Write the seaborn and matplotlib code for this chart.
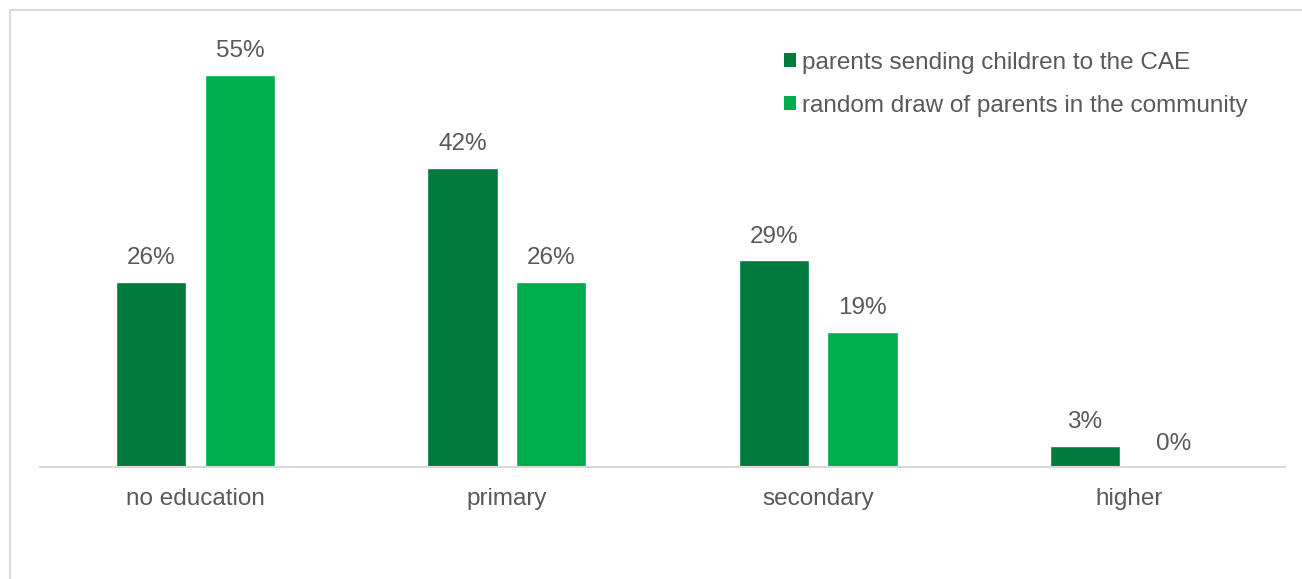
import matplotlib
matplotlib.use("Agg")
import matplotlib.pyplot as plt
from matplotlib.lines import Line2D
from matplotlib.patches import Patch
import pandas as pd
import seaborn as sns

categories = ["no education", "primary", "secondary", "higher"]
cae_parents = [26, 42, 29, 3]
community_parents = [55, 26, 19, 0]
series_names = ["parents sending children to the CAE",
                "random draw of parents in the community"]
colors = ["#007A3D", "#00AC4E"]
text_color = "#595959"

df = pd.DataFrame({
    "category": categories * 2,
    "value": cae_parents + community_parents,
    "series": [series_names[0]] * 4 + [series_names[1]] * 4,
})

sns.set_theme(style="white")
plt.rcParams["font.family"] = ["Liberation Sans", "DejaVu Sans"]

W, H = 1302, 579
fig = plt.figure(figsize=(W / 100, H / 100), dpi=100)
ax = fig.add_axes([40 / W, 1 - 467 / H, (1285 - 40) / W, (467 - 20) / H])

sns.barplot(data=df, x="category", y="value", hue="series", order=categories,
            hue_order=series_names, palette=colors, width=0.57, gap=0.21,
            ax=ax, legend=False, saturation=1)

ax.set_xlim(-0.5, 3.5)
ax.set_ylim(0, (467 - 20) / 7.13)

for container in ax.containers:
    ax.bar_label(container, labels=[f"{v:.0f}%" for v in container.datavalues],
                 padding=9, fontsize=17.5, color=text_color)

ax.set_xlabel("")
ax.set_ylabel("")
ax.set_yticks([])
ax.tick_params(axis="x", length=0, pad=15, labelsize=17.5, labelcolor=text_color)
for side in ["top", "right", "left"]:
    ax.spines[side].set_visible(False)
ax.spines["bottom"].set_color("#D9D9D9")
ax.spines["bottom"].set_linewidth(1.5)

handles = [Patch(facecolor=c, edgecolor="none") for c in colors]
fig.legend(handles, series_names, loc="upper left",
           bbox_to_anchor=(784 / W, 1 - 52 / H), frameon=False, borderpad=0,
           borderaxespad=0, fontsize=17.5, labelcolor=text_color,
           handlelength=0.5, handleheight=0.5, handletextpad=0.25,
           labelspacing=0.85)

# chart area outline along the top and left edges
fig.add_artist(Line2D([10 / W, 1], [1 - 10 / H, 1 - 10 / H],
                      transform=fig.transFigure, color="#D9D9D9", lw=1.5))
fig.add_artist(Line2D([10 / W, 10 / W], [0, 1 - 10 / H],
                      transform=fig.transFigure, color="#D9D9D9", lw=1.5))

fig.savefig("out.png", dpi=100, facecolor="white")
